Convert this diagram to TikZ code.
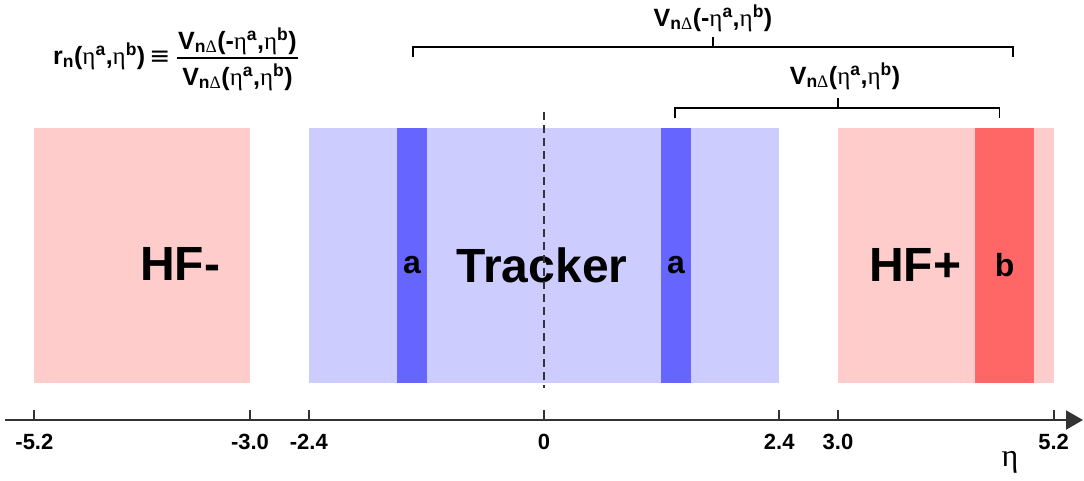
\documentclass[tikz,border=0pt]{standalone}
\usepackage{fontspec}
\setmainfont{Liberation Sans}
\newfontfamily\etafont{Liberation Serif}
\newfontfamily\opfont{DejaVu Sans}
\usetikzlibrary{positioning, arrows.meta, calc}

\definecolor{hflight}{RGB}{255,204,204}
\definecolor{hfdark}{RGB}{255,102,102}
\definecolor{trklight}{RGB}{204,204,255}
\definecolor{trkdark}{RGB}{102,102,255}
\definecolor{axisgray}{RGB}{51,51,51}

\newcommand{\heta}{{\etafont\mdseries η}}
\newcommand{\hdelta}{{\etafont\mdseries Δ}}
\newcommand{\vnd}{V\textsubscript{n\hdelta}}

\begin{document}
\begin{tikzpicture}
    [
        x=98pt, y=-1pt,
        bigtext/.style={font=\bfseries\fontsize{48}{56}\selectfont},
        striptext/.style={font=\bfseries\fontsize{32}{38}\selectfont},
        ticklabel/.style={font=\bfseries\fontsize{22}{26}\selectfont},
        formula/.style={font=\bfseries\fontsize{25}{30}\selectfont, inner sep=0pt},
        bracket/.style={draw=black, line width=1.3pt},
        axisline/.style={draw=axisgray, line width=2pt}
    ]
        \useasboundingbox (-5.551,0) rectangle (5.510,480);

        % =========================================================================
        % REGIONS
        % =========================================================================
        \fill [hflight] (-5.2,128) rectangle (-3.0,383);
        \fill [trklight] (-2.4,128) rectangle (2.4,383);
        \fill [hflight] (3.0,128) rectangle (5.2,383);
        % --- eta bins ---
        \fill [trkdark] (-1.5,128) rectangle (-1.194,383);
        \fill [trkdark] (1.194,128) rectangle (1.5,383);
        \fill [hfdark] (4.4,128) rectangle (5.0,383);

        % =========================================================================
        % NODES
        % =========================================================================
        \node [bigtext] (hfminus) at (-3.714,264) {HF-};
        \node [bigtext] (tracker) at (-0.02,265) {Tracker};
        \node [bigtext] (hfplus) at (3.786,265) {HF+};
        \node [striptext] (aleft) at (-1.347,265) {a};
        \node [striptext] (aright) at (1.347,265) {a};
        \node [striptext] (bbin) at (4.7,265) {b};

        % --- formula ---
        \node [formula] (num) at (-3.128,41) {\vnd(-\heta\textsuperscript{a},\heta\textsuperscript{b})};
        \node [formula] (den) at (-3.128,77) {\vnd(\heta\textsuperscript{a},\heta\textsuperscript{b})};
        \node [formula, anchor=west] (ratio) at (-5.01,56)
            {r\textsubscript{n}(\heta\textsuperscript{a},\heta\textsuperscript{b})\,{\opfont\mdseries ≡}};
        \coordinate (bar left) at (-3.745,58);
        \coordinate (bar right) at (-2.51,58);

        % --- correlators ---
        \node [formula] (outer label) at (1.724,18) {\vnd(-\heta\textsuperscript{a},\heta\textsuperscript{b})};
        \node [formula] (inner label) at (3.071,76) {\vnd(\heta\textsuperscript{a},\heta\textsuperscript{b})};
        \coordinate (outer left) at (-1.337,57);
        \coordinate (outer right) at (4.786,57);
        \coordinate (outer mid) at (1.724,47);
        \coordinate (inner left) at (1.337,118);
        \coordinate (inner right) at (4.65,118);
        \coordinate (inner mid) at (3.0,108);

        % --- axis ---
        \coordinate (axis start) at (-5.5,420);
        \coordinate (axis end) at (5.5,420);
        \node [font=\etafont\fontsize{32}{38}\selectfont] (eta) at (4.755,462) {η};

        % =========================================================================
        % PATHS
        % =========================================================================
        \draw [line width=2pt] (bar left) -- (bar right);
        \draw [axisgray, line width=1.6pt, dash pattern=on 8pt off 5pt] (0,112) -- (0,388);

        % --- brackets ---
        \draw [bracket] (outer left) -- ++(0,-10) -| (outer right);
        \draw [bracket] (outer mid) -- ++(0,-10);
        \draw [bracket] (inner left) -- ++(0,-10) -| (inner right);
        \draw [bracket] (inner mid) -- ++(0,-10);

        % --- axis and ticks ---
        \draw [axisline, -{Triangle[length=17pt, width=19pt]}] (axis start) -- (axis end);
        \foreach \t [count=\i] in {-5.2, -3.0, -2.4, 0, 2.4, 3.0, 5.2} {
            \draw [axisline] (\t,410) -- (\t,420);
            \node [ticklabel] (tick\i) at (\t,442) {\t};
        }

    \end{tikzpicture}
\end{document}
